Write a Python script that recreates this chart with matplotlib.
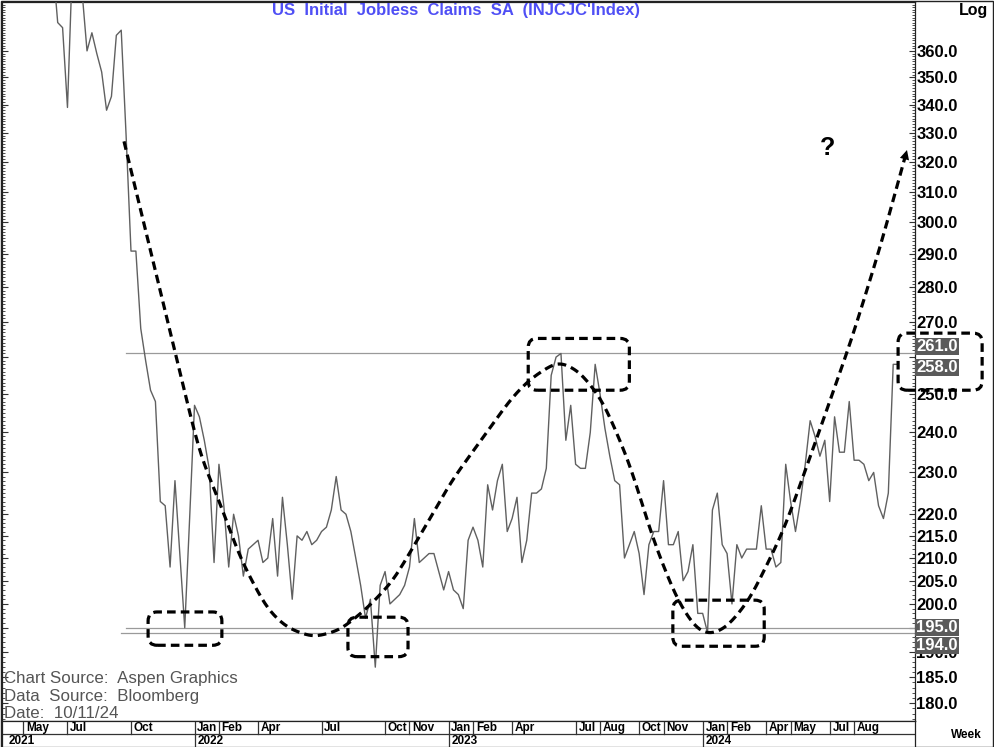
import numpy as np
import pandas as pd
import matplotlib
matplotlib.use('Agg')
import matplotlib.pyplot as plt
import matplotlib.dates as mdates
from matplotlib.patches import FancyBboxPatch, Rectangle
from matplotlib.transforms import IdentityTransform

plt.rcParams['font.family'] = ['Liberation Sans', 'DejaVu Sans']

# weekly SA initial claims (thousands), week ending Saturdays from 2021-06-12
first_week = '2021-06-12'
claims = [395, 371, 369, 339, 395, 410, 383, 360, 367, 359, 352, 338, 343, 366, 368,
          329, 291, 291, 268, 259, 251, 248, 223, 222, 208, 228, 211, 195, 219, 247,
          244, 238, 231, 209, 232, 222, 208, 220, 215, 206, 212, 213, 214, 209, 210,
          219, 206, 224, 213, 201, 215, 214, 216, 213, 214, 216, 217, 221, 229, 221,
          220, 216, 210, 204, 197, 201, 187, 204, 207, 200, 201, 202, 204, 208, 219,
          209, 210, 211, 211, 207, 203, 207, 203, 202, 199, 214, 217, 214, 208, 227,
          221, 228, 232, 216, 219, 224, 209, 214, 225, 225, 226, 231, 255, 260, 261,
          238, 247, 232, 231, 231, 240, 258, 250, 241, 234, 228, 227, 210, 213, 216,
          211, 202, 213, 216, 216, 228, 213, 213, 216, 205, 207, 213, 198, 198, 194,
          221, 225, 213, 211, 200, 213, 210, 212, 212, 212, 222, 212, 212, 208, 209,
          232, 223, 216, 223, 232, 243, 239, 234, 238, 223, 244, 235, 235, 248, 233,
          233, 232, 228, 230, 222, 219, 225, 258, 258]

# axis labels (195 and 260 sit under the highlighted values)
y_ticks = [180, 185, 190, 195, 200, 205, 210, 215, 220, 230, 240, 250, 260, 270,
           280, 290, 300, 310, 320, 330, 340, 350, 360]
hidden_ticks = [195, 260]
month_ticks = ['2021-05', '2021-07', '2021-10',
               '2022-01', '2022-02', '2022-04', '2022-07', '2022-10', '2022-11',
               '2023-01', '2023-02', '2023-04', '2023-07', '2023-08', '2023-10', '2023-11',
               '2024-01', '2024-02', '2024-04', '2024-05', '2024-07', '2024-08']

# reference levels (value, week where the line starts)
ref_levels = [261, 195, 194]
ref_start = [15, 15, 14]
# highlighted values on the right axis and their label shift (px)
hl_values = [261, 258, 195, 194]
hl_shift = [6.5, -3, 0, -12.5]

# hand-drawn dashed swing (weeks since first_week, value)
swing_wk = [14.57, 20.16, 26.38, 30.12, 33.8, 38.31, 43.77, 47.87, 53.31, 58.78, 64.24,
            69.69, 77.2, 81.64, 93.92, 97.66, 103.46, 107.9, 112.67, 118.13,
            122.9, 127.69, 131.78, 134.5, 137.92, 142.68, 149.5, 155.64, 163.5, 169.3,
            174.82]
swing_val = [327, 290, 254, 234, 224, 210, 199, 195, 193, 194.5, 199, 205, 219, 228,
             249, 254, 259, 256, 248, 232, 214, 201, 194.5, 193.5, 195, 201, 216,
             236, 265, 292, 324]

# dashed boxes (week from, week to, low, high)
boxes = [(19.5, 34.6, 191.4, 198.3),
         (60.4, 72.7, 189.1, 197.2),
         (97.3, 118.0, 251.0, 265.2),
         (126.9, 145.6, 191.2, 200.8),
         (173.0, 190.2, 251.0, 266.7)]

t0 = mdates.date2num(pd.Timestamp(first_week))


def wk(k):
    return t0 + 7 * np.asarray(k)


def month_start_week(m):
    # first weekly point dated no earlier than two days before the 1st
    d = pd.Timestamp(m + '-01') - pd.Timedelta(days=2)
    return d + pd.Timedelta(days=(5 - d.weekday()) % 7)


def smooth_path(ks, vals, n=700, sigma=1.5):
    kg = np.linspace(ks[0], ks[-1], n)
    lg = np.interp(kg, ks, np.log(vals))
    step = kg[1] - kg[0]
    s = sigma / step
    half = int(3 * s)
    ker = np.exp(-0.5 * (np.arange(-half, half + 1) / s) ** 2)
    ker /= ker.sum()
    pad_l = 2 * lg[0] - lg[1:half + 1][::-1]
    pad_r = 2 * lg[-1] - lg[-half - 1:-1][::-1]
    sm = np.convolve(np.concatenate([pad_l, lg, pad_r]), ker, mode='same')[half:-half]
    return kg, np.exp(sm)


W, H = 995, 747
fig = plt.figure(figsize=(W / 100, H / 100), dpi=100)
ax = fig.add_axes([2 / W, 26 / H, 913 / W, 719 / H])

x = wk(np.arange(len(claims)))
ax.plot(x, claims, color='#606060', lw=1.0, zorder=3)

for lev, st in zip(ref_levels, ref_start):
    ax.plot([wk(st), wk(200)], [lev, lev], color='#9a9a9a', lw=0.9, zorder=2)

ax.set_yscale('log')
ax.set_ylim(176.6, 379.2)
ax.set_xlim(wk(-10.4), wk(176.46))

ax.yaxis.tick_right()
ax.yaxis.set_major_locator(matplotlib.ticker.FixedLocator(y_ticks))
ax.yaxis.set_major_formatter(matplotlib.ticker.FuncFormatter(
    lambda v, p: '' if round(v) in hidden_ticks else f'{v:.1f}'))
ax.yaxis.set_minor_locator(matplotlib.ticker.FixedLocator(np.arange(177, 380)))
ax.yaxis.set_minor_formatter(matplotlib.ticker.NullFormatter())
ax.tick_params(axis='y', which='both', direction='in', left=True, right=True,
               labelleft=False, labelright=True, colors='#333333')
ax.tick_params(axis='y', which='major', length=4, width=0.8, pad=1,
               labelsize=12, labelcolor='black')
ax.tick_params(axis='y', which='minor', length=2, width=0.6)
for lab in ax.get_yticklabels():
    lab.set_fontweight('bold')
ax.set_xticks([])
for s in ax.spines.values():
    s.set_linewidth(0.9)
    s.set_color('#222222')

# dashed swing with arrow
sk, sv = smooth_path(swing_wk, swing_val)
sx = wk(sk)
ax.plot(sx[:-2], sv[:-2], color='black', lw=2.3, ls=(0, (2.7, 1.6)), zorder=5,
        clip_on=False)
ax.annotate('', xy=(sx[-1], sv[-1]), xytext=(sx[-4], sv[-4]),
            arrowprops=dict(arrowstyle='-|>', color='black', lw=0, mutation_scale=17,
                            shrinkA=0, shrinkB=0), zorder=6, annotation_clip=False)

# highlighted right-axis values
for v, s in zip(hl_values, hl_shift):
    ax.annotate(f'{v:.1f}', xy=(1, v), xycoords=('axes fraction', 'data'),
                xytext=(1, s * 0.72), textcoords='offset points', ha='left', va='center',
                color='white', fontweight='bold', fontsize=12, zorder=7,
                bbox=dict(boxstyle='square,pad=0.06', fc='#5a5a5a', ec='none'),
                annotation_clip=False)

# dashed rounded boxes
for k0, k1, lo, hi in boxes:
    x0, y0 = ax.transData.transform((wk(k0), lo))
    x1, y1 = ax.transData.transform((wk(k1), hi))
    fig.add_artist(FancyBboxPatch((x0, y0), x1 - x0, y1 - y0,
                                  boxstyle='round,pad=0,rounding_size=9',
                                  transform=IdentityTransform(), fill=False, ec='black',
                                  lw=2.3, ls=(0, (2.7, 1.6)), zorder=8))

# date strip
ax2 = fig.add_axes([2 / W, 0, 913 / W, 26 / H])
ax2.set_xlim(ax.get_xlim())
ax2.set_ylim(0, 1)
ax2.set_xticks([])
ax2.set_yticks([])
for s in ax2.spines.values():
    s.set_linewidth(0.9)
    s.set_color('#222222')
ax2.axhline(0.5, color='#333333', lw=0.9)
for m in month_ticks:
    d = month_start_week(m)
    xm = mdates.date2num(d)
    lab = pd.Timestamp(m + '-01')
    ax2.plot([xm, xm], [0.5, 1], color='#333333', lw=0.9)
    ax2.annotate(lab.strftime('%b'), xy=(xm, 0.74), xytext=(2, 0),
                 textcoords='offset points', ha='left', va='center', fontsize=8.5,
                 fontweight='bold')
    if lab.month == 1:
        ax2.plot([xm, xm], [0, 0.5], color='#333333', lw=0.9)
        ax2.annotate(str(lab.year), xy=(xm, 0.24), xytext=(2, 0),
                     textcoords='offset points', ha='left', va='center', fontsize=8.5,
                     fontweight='bold')
ax2.text(0.007, 0.24, '2021', transform=ax2.transAxes, ha='left', va='center',
         fontsize=8.5, fontweight='bold')

# texts
fig.text(456 / W, 1 - 11 / H, "US  Initial  Jobless  Claims  SA  (INJCJC'Index)",
         ha='center', va='center', color='#4f4ff5', fontsize=12, fontweight='bold')
fig.text(828 / W, 1 - 148 / H, '?', ha='center', va='center', fontsize=18,
         fontweight='bold')
fig.text(988 / W, 1 - 11 / H, 'Log', ha='right', va='center', fontsize=11.5,
         fontweight='bold')
fig.text(982 / W, 1 - 735 / H, 'Week', ha='right', va='center', fontsize=8.5,
         fontweight='bold')
notes = ['Chart Source:  Aspen Graphics', 'Data  Source:  Bloomberg', 'Date:  10/11/24']
for i, t in enumerate(notes):
    fig.text(4 / W, 1 - (679 + 17 * i) / H, t, ha='left', va='center', fontsize=12.2,
             color='#555555')

# outer frame
fig.add_artist(Rectangle((0.5, 0.5), 992, 746, transform=IdentityTransform(), fill=False,
                         ec='#222222', lw=1.0, zorder=0))

fig.savefig('out.png', dpi=100)
